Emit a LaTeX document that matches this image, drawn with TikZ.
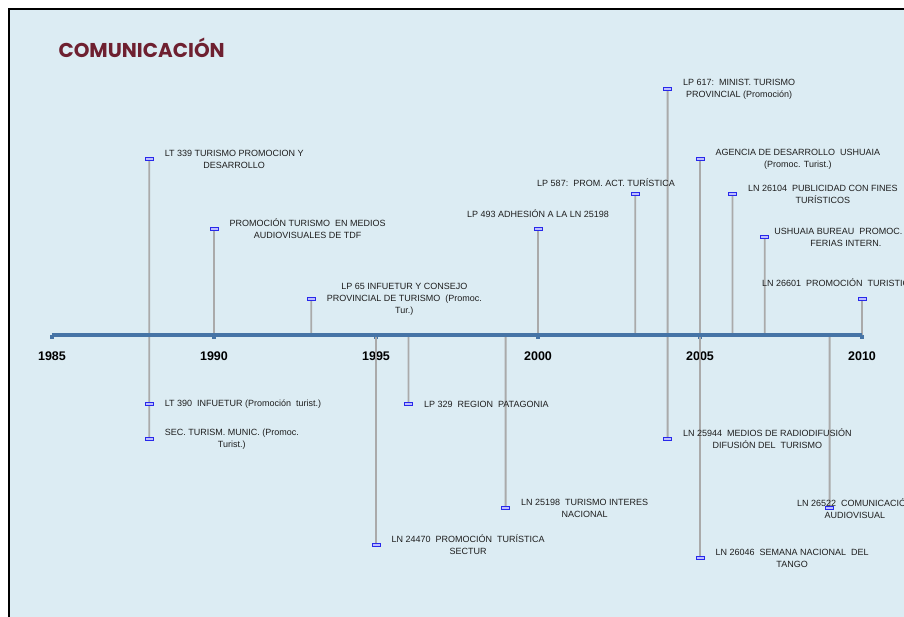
\documentclass[tikz,border=0pt]{standalone}
\usepackage{fontspec}
\setmainfont{Liberation Sans}
\newfontfamily\titlefont{Poppins}
\usepackage{tikz}
\usetikzlibrary{positioning,calc}
\definecolor{panelblue}{RGB}{220,236,243}
\definecolor{axisblue}{RGB}{70,116,166}
\definecolor{stemgray}{RGB}{170,170,170}
\definecolor{markblue}{RGB}{40,40,235}
\definecolor{markfill}{RGB}{190,190,255}
\definecolor{titlered}{RGB}{110,32,48}
\definecolor{labeltext}{RGB}{30,30,30}
\tikzset{
        hito/.style={rectangle, draw=markblue, fill=markfill, line width=0.8pt, minimum width=8pt, minimum height=3pt, inner sep=0pt}, % small marker at the end of a stem
        hitoline/.style={draw=stemgray, line width=1.8pt}, % vertical stem
        lbl/.style={font=\fontsize{9}{12}\selectfont, align=center, text=labeltext, inner sep=0pt}, % event text
        anio/.style={font=\fontsize{12.5}{14}\selectfont\bfseries, text=black}, % year below the axis
}

\begin{document}
\begin{tikzpicture}[x=1pt,y=-1pt]
\useasboundingbox (0,0) rectangle (904,616);
\fill[panelblue] (9,9) rectangle (910,620);
\draw[black, line width=2.2pt] (9,620) -- (9,9) -- (910,9);
\node[anchor=west, text=titlered, font=\titlefont\bfseries\fontsize{20}{22}\selectfont] (titulo) at (55,48) {COMUNICACIÓN};

% years on the axis
\foreach \yy in {1985,...,2010}
    \coordinate (y\yy) at ({52+32.4*(\yy-1985)},335);
\foreach \yy in {1985,1990,1995,2000,2005,2010} {
    \fill[axisblue] ($(y\yy)+(-2,0)$) rectangle ($(y\yy)+(2,4)$);
    \node[anio] at ($(y\yy)+(0,21)$) {\yy};
}

% markers above the axis
\node[hito] (m339) at (149.2,159) {};
\node[hito] (m90) at (214,229) {};
\node[hito] (m65) at (311.2,299) {};
\node[hito] (m493) at (538,229) {};
\node[hito] (m587) at (635.2,194) {};
\node[hito] (m617) at (667.6,89) {};
\node[hito] (mage) at (700,159) {};
\node[hito] (m26104) at (732.4,194) {};
\node[hito] (mbur) at (764.8,237) {};
\node[hito] (m26601) at (862,299) {};
% markers below the axis
\node[hito] (m390) at (149.2,404) {};
\node[hito] (msec) at (149.2,439) {};
\node[hito] (m24470) at (376,545) {};
\node[hito] (m329) at (408.4,404) {};
\node[hito] (m25198) at (505.6,508) {};
\node[hito] (m25944) at (667.6,439) {};
\node[hito] (m26046) at (700,558) {};
\node[hito] (m26522) at (829.6,508) {};

% stems
\draw[hitoline] (m339) -- (y1988) -- (msec);
\draw[hitoline] (m90) -- (y1990);
\draw[hitoline] (m65) -- (y1993);
\draw[hitoline] (y1995) -- (m24470);
\draw[hitoline] (y1996) -- (m329);
\draw[hitoline] (y1999) -- (m25198);
\draw[hitoline] (m493) -- (y2000);
\draw[hitoline] (m587) -- (y2003);
\draw[hitoline] (m617) -- (y2004) -- (m25944);
\draw[hitoline] (mage) -- (y2005) -- (m26046);
\draw[hitoline] (m26104) -- (y2006);
\draw[hitoline] (mbur) -- (y2007);
\draw[hitoline] (y2009) -- (m26522);
\draw[hitoline] (m26601) -- (y2010);
\draw[axisblue, line width=4.5pt] (y1985) -- (y2010);
\foreach \m in {m339,m90,m65,m493,m587,m617,mage,m26104,mbur,m26601,m390,msec,m24470,m329,m25198,m25944,m26046,m26522}
    \node[hito] at (\m) {};

% texts
\node[lbl, right=11pt of m339] {LT 339 TURISMO PROMOCION Y\\DESARROLLO};
\node[lbl, right=11pt of m90] {PROMOCIÓN TURISMO\ \ EN MEDIOS\\AUDIOVISUALES DE TDF};
\node[lbl, right=11pt of m65] {LP 65 INFUETUR Y CONSEJO\\PROVINCIAL DE TURISMO\ \ (Promoc.\\Tur.)};
\node[lbl, above=9pt of m493] {LP 493 ADHESIÓN A LA LN 25198};
\node[lbl, anchor=base] at (606,186.5) {LP 587:\ \ PROM. ACT. TURÍSTICA};
\node[lbl, right=11pt of m617] {LP 617:\ \ MINIST. TURISMO\\PROVINCIAL (Promoción)};
\node[lbl, right=11pt of mage] {AGENCIA DE DESARROLLO\ \ USHUAIA\\(Promoc. Turist.)};
\node[lbl, right=11pt of m26104] {LN 26104\ \ PUBLICIDAD CON FINES\\TURÍSTICOS};
\node[lbl, right=5pt of mbur] {USHUAIA BUREAU\ \ PROMOC. EN\\FERIAS INTERN.};
\node[lbl, anchor=west] at (762,283) {LN 26601\ \ PROMOCIÓN\ \ TURISTICO};
\node[lbl, right=11pt of m390] {LT 390\ \ INFUETUR (Promoción\ \ turist.)};
\node[lbl, right=11pt of msec] {SEC. TURISM. MUNIC. (Promoc.\\Turist.)};
\node[lbl, right=11pt of m24470] {LN 24470\ \ PROMOCIÓN\ \ TURÍSTICA\\SECTUR};
\node[lbl, right=11pt of m329] {LP 329\ \ REGION\ \ PATAGONIA};
\node[lbl, right=11pt of m25198] {LN 25198\ \ TURISMO INTERES\\NACIONAL};
\node[lbl, right=11pt of m25944] {LN 25944\ \ MEDIOS DE RADIODIFUSIÓN\\DIFUSIÓN DEL\ \ TURISMO};
\node[lbl, right=11pt of m26046] {LN 26046\ \ SEMANA NACIONAL\ \ DEL\\TANGO};
\node[lbl, anchor=west] at (797,509) {LN 26522\ \ COMUNICACIÓN\\AUDIOVISUAL};

\end{tikzpicture}
\end{document}
